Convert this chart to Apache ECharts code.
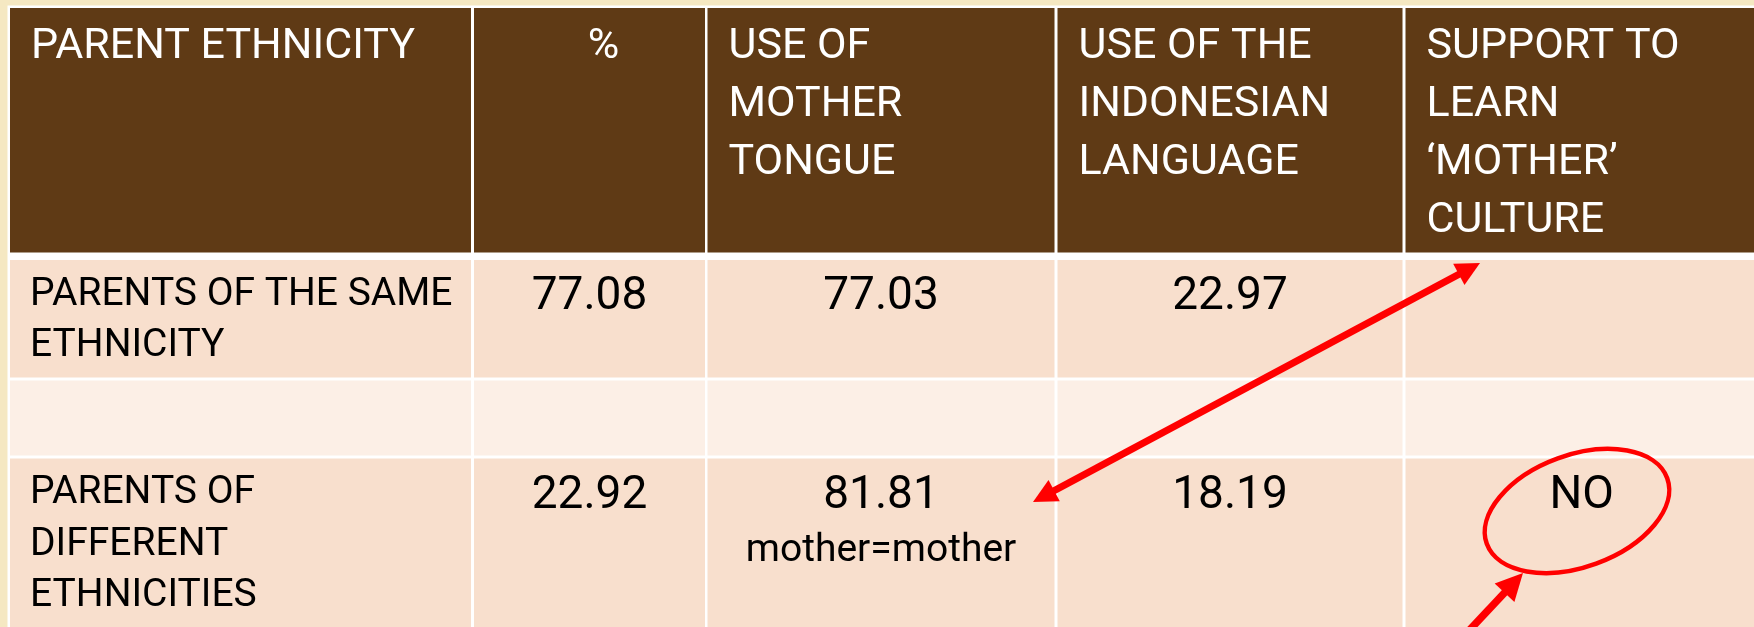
<!DOCTYPE html>
<html>
<head>
<meta charset="utf-8">
<script src="https://cdn.jsdelivr.net/npm/echarts@6/dist/echarts.min.js"></script>
<style>
  html, body { margin: 0; padding: 0; background: #F5E8C2; }
  #chart { width: 1754px; height: 627px; }
</style>
</head>
<body>
<div id="chart"></div>
<script>
// ---- table content ----
const headers = ['PARENT ETHNICITY', '%', 'USE OF\nMOTHER\nTONGUE', 'USE OF THE\nINDONESIAN\nLANGUAGE', 'SUPPORT TO\nLEARN\n\u2018MOTHER\u2019\nCULTURE'];
const groups = ['PARENTS OF THE SAME\nETHNICITY', '', 'PARENTS OF\nDIFFERENT\nETHNICITIES'];
const percent = ['77.08', '', '22.92'];
const motherTongue = ['77.03', '', '81.81'];
const motherTongueNote = ['', '', 'mother=mother'];
const indonesian = ['22.97', '', '18.19'];
const support = ['', '', 'NO'];

// ---- layout (pixels in the grid's coordinate space) ----
const cellX0 = [10, 474, 707.5, 1057.5, 1405.5];
const cellX1 = [471, 705, 1054.5, 1402.5, 1758];
const rowY0 = [8, 260, 380.5, 458.5];
const rowY1 = [252.5, 377.5, 455.5, 640];
const rowFill = ['#5F3A15', '#F8DFCD', '#FCEFE6', '#F8DFCD'];
const FONT = 'Roboto, "Liberation Sans", sans-serif';

const cells = [];
for (let r = 0; r < 4; r++) for (let c = 0; c < 5; c++) cells.push([c, r]);

function cellText(r, c) {
  if (r === 0) return headers[c];
  const i = r - 1;
  return [groups[i], percent[i], motherTongue[i], indonesian[i], support[i]][c];
}

function renderItem(params, api) {
  const c = api.value(0), r = api.value(1);
  const p0 = api.coord([cellX0[c], rowY0[r]]);
  const p1 = api.coord([cellX1[c], rowY1[r]]);
  const children = [{
    type: 'rect',
    shape: { x: p0[0], y: p0[1], width: p1[0] - p0[0], height: p1[1] - p0[1] },
    style: { fill: rowFill[r] }
  }];
  const t = cellText(r, c);
  const cx = (p0[0] + p1[0]) / 2;
  if (r === 0) {
    const centered = c === 1;
    children.push({
      type: 'text',
      x: centered ? cx + 14 : p0[0] + 21,
      y: p0[1] + 10,
      style: { text: t, fill: '#FFFFFF', font: 'normal 43px ' + FONT, lineHeight: 58,
               align: centered ? 'center' : 'left', verticalAlign: 'top' }
    });
  } else if (c === 0) {
    children.push({
      type: 'text',
      x: p0[0] + 20,
      y: p0[1] + 9,
      style: { text: t, fill: '#000000', font: 'normal 39px ' + FONT, lineHeight: 51.5,
               align: 'left', verticalAlign: 'top' }
    });
  } else if (t) {
    children.push({
      type: 'text',
      x: cx,
      y: p0[1] + 37.5,
      style: { text: t, fill: '#000000', font: 'normal 46px ' + FONT,
               align: 'center', verticalAlign: 'middle' }
    });
    if (c === 2 && motherTongueNote[r - 1]) {
      children.push({
        type: 'text',
        x: cx,
        y: p0[1] + 92.5,
        style: { text: motherTongueNote[r - 1], fill: '#000000', font: 'normal 39px ' + FONT,
                 align: 'center', verticalAlign: 'middle' }
      });
    }
  }
  return { type: 'group', children: children };
}

// ---- annotation helpers ----
function head(tip, from, len, w) {
  const dx = tip[0] - from[0], dy = tip[1] - from[1];
  const d = Math.hypot(dx, dy), ux = dx / d, uy = dy / d;
  const bx = tip[0] - ux * len, by = tip[1] - uy * len;
  const nx = -uy, ny = ux;
  return { base: [bx + ux, by + uy], pts: [tip, [bx + nx * w / 2, by + ny * w / 2], [bx - nx * w / 2, by - ny * w / 2]] };
}
const RED = '#FF0000';
const a1A = [1033, 502], a1B = [1480, 263];
const h1a = head(a1A, a1B, 24, 24), h1b = head(a1B, a1A, 24, 24);
const a2From = [1448, 653], a2Tip = [1523, 573];
const h2 = head(a2Tip, a2From, 27, 27);

const graphics = [
  { type: 'line', shape: { x1: h1a.base[0], y1: h1a.base[1], x2: h1b.base[0], y2: h1b.base[1] },
    style: { stroke: RED, lineWidth: 7 }, z: 100 },
  { type: 'polygon', shape: { points: h1a.pts }, style: { fill: RED }, z: 100 },
  { type: 'polygon', shape: { points: h1b.pts }, style: { fill: RED }, z: 100 },
  { type: 'line', shape: { x1: a2From[0], y1: a2From[1], x2: h2.base[0], y2: h2.base[1] },
    style: { stroke: RED, lineWidth: 7.5 }, z: 100 },
  { type: 'polygon', shape: { points: h2.pts }, style: { fill: RED }, z: 100 },
  { type: 'ellipse', x: 1577, y: 511, rotation: 20 * Math.PI / 180,
    shape: { cx: 0, cy: 0, rx: 96, ry: 56 },
    style: { fill: null, stroke: RED, lineWidth: 4.5 }, z: 100 }
];

const chart = echarts.init(document.getElementById('chart'), null, { renderer: 'canvas' });
chart.setOption({
  backgroundColor: '#F5E8C2',
  animation: false,
  grid: { left: 0, right: 0, top: 0, bottom: 0 },
  xAxis: { type: 'value', min: 0, max: 1754, show: false },
  yAxis: { type: 'value', min: 0, max: 627, inverse: true, show: false },
  graphic: [
    { type: 'rect', shape: { x: 7.5, y: 5.5, width: 1760, height: 640 }, style: { fill: '#FFFFFF' }, z: -1 }
  ].concat(graphics),
  series: [{
    type: 'custom',
    renderItem: renderItem,
    data: cells,
    encode: { x: 0, y: 1 },
    clip: false,
    silent: true,
    z: 2
  }]
});
</script>
</body>
</html>
